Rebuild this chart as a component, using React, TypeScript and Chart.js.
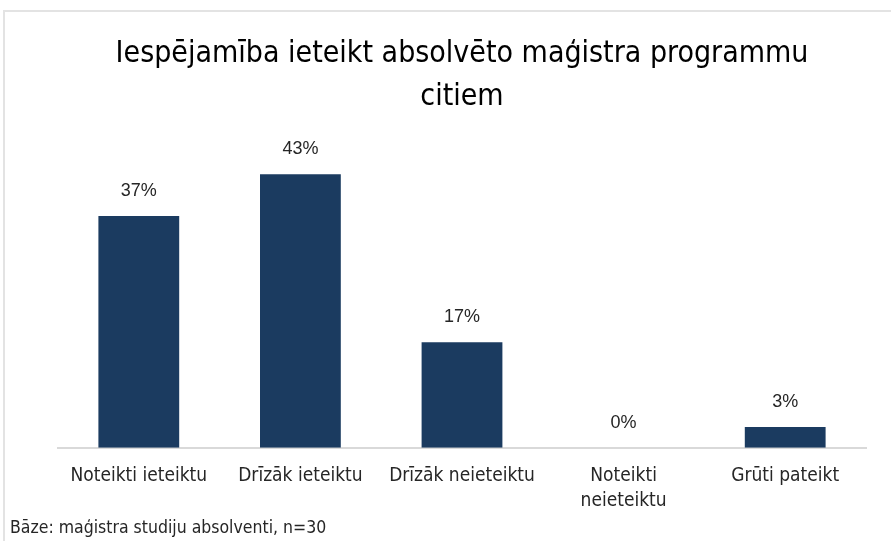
import React, { useEffect, useRef } from "react";
import { Chart, registerables } from "chart.js";

Chart.register(...registerables);

const categories: (string | string[])[] = [
  "Noteikti ieteiktu",
  "Drīzāk ieteiktu",
  "Drīzāk neieteiktu",
  ["Noteikti", "neieteiktu"],
  "Grūti pateikt",
];
const values = [36.7, 43.3, 16.7, 0, 3.3];
const titleLines = ["Iespējamība ieteikt absolvēto maģistra programmu", "citiem"];
const footnote = "Bāze: maģistra studiju absolventi, n=30";

const NARROW = '"Liberation Sans Narrow", "DejaVu Sans Condensed", "Roboto Condensed", sans-serif';
const LABEL_FONT = '"Liberation Sans", Arial, sans-serif';

const labelPlugin = {
  id: "valueLabels",
  afterDatasetsDraw(chart: any) {
    const { ctx } = chart;
    const meta = chart.getDatasetMeta(0);
    ctx.save();
    ctx.font = `18px ${LABEL_FONT}`;
    ctx.fillStyle = "#262626";
    ctx.textAlign = "center";
    ctx.textBaseline = "middle";
    meta.data.forEach((bar: any, i: number) => {
      ctx.fillText(`${Math.round(values[i])}%`, bar.x, bar.y - 25);
    });
    ctx.font = `17.5px ${NARROW}`;
    ctx.textAlign = "left";
    ctx.fillStyle = "#262626";
    ctx.fillText(footnote, 10, 528);
    ctx.restore();
  },
};

export default function App() {
  const ref = useRef<HTMLCanvasElement | null>(null);
  useEffect(() => {
    document.body.style.margin = "0";
    const chart = new Chart(ref.current as HTMLCanvasElement, {
      type: "bar",
      data: {
        labels: categories,
        datasets: [
          {
            data: values,
            backgroundColor: "#1b3b60",
            barPercentage: 0.5,
            categoryPercentage: 1,
          },
        ],
      },
      options: {
        animation: false,
        responsive: false,
        layout: { padding: { left: 58, right: 25, top: 14, bottom: 11 } },
        plugins: {
          legend: { display: false },
          tooltip: { enabled: false },
          title: {
            display: true,
            text: titleLines,
            color: "#000",
            font: { family: NARROW, size: 30, weight: "normal", lineHeight: 1.45 },
            padding: { top: 18, bottom: 13 },
          },
        },
        scales: {
          x: {
            grid: { display: false, drawTicks: false },
            border: { display: true, color: "#d9d9d9", width: 2 },
            ticks: {
              color: "#262626",
              font: { family: NARROW, size: 19, lineHeight: 1.32 },
              padding: 16,
              maxRotation: 0,
              autoSkip: false,
            },
          },
          y: {
            display: false,
            min: 0,
            max: 50,
          },
        },
      },
      plugins: [labelPlugin],
    });
    return () => chart.destroy();
  }, []);
  return (
    <div style={{ position: "relative", width: 891, height: 541, overflow: "hidden", background: "#fff" }}>
      <div
        style={{
          position: "absolute",
          left: 3,
          top: 10,
          width: 950,
          height: 600,
          border: "2px solid #e3e3e3",
        }}
      />
      <canvas ref={ref} width={891} height={541} style={{ position: "absolute", left: 0, top: 0 }} />
    </div>
  );
}
